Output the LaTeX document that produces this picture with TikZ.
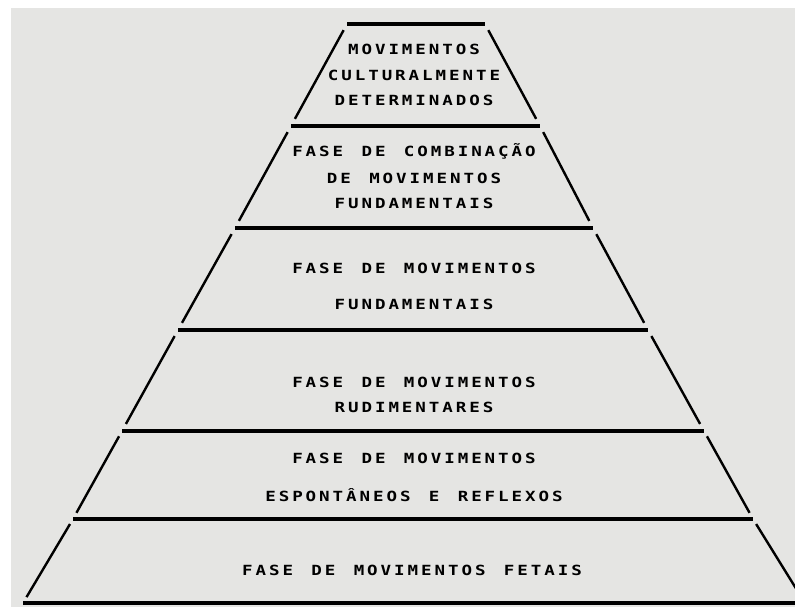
\documentclass[tikz,border=0pt]{standalone}
\usepackage{fontspec}
\usepackage{xcolor}
\usetikzlibrary{calc,positioning}
\newfontfamily\piramidefont[FakeStretch=1.25, LetterSpace=21, WordSpace=1.36]{DejaVu Sans Mono Bold}
\definecolor{papel}{RGB}{229,229,227}

\begin{document}
\begin{tikzpicture}[x=1pt, y=-1pt,
    degrau/.style={line width=4.5pt},
    lado/.style={line width=2.4pt},
    rotulo/.style={font=\piramidefont\fontsize{14}{16}\selectfont,
                   inner sep=0pt, anchor=base}]
\useasboundingbox (0,0) rectangle (795,607);
\clip (0,0) rectangle (795,607);
\fill[white] (0,0) rectangle (795,607);
\fill[papel] (11,8) rectangle (795,607);
%
% degraus da piramide: altura, ponta esquerda, ponta direita
\foreach \y/\l/\r [count=\i] in {24/347/485, 126/291/540, 228/235/593,
    330/178/648, 431/122/704, 519/73/753, 603/23/805}
{
  \coordinate (e\i) at (\l,\y);
  \coordinate (d\i) at (\r,\y);
  \draw[degrau] (e\i) -- (d\i);
}
% lados de cada faixa
\foreach \i [evaluate=\i as \j using int(\i+1)] in {1,...,6}
{
  \draw[lado] ($(e\i)!0.06!(e\j)$) -- ($(e\i)!0.93!(e\j)$);
  \draw[lado] ($(d\i)!0.06!(d\j)$) -- ($(d\i)!0.93!(d\j)$);
}
%
\node[rotulo] (cult1) at (414,55)  {MOVIMENTOS};
\node[rotulo] (cult2) at (414,81)  {CULTURALMENTE};
\node[rotulo] (cult3) at (414,106) {DETERMINADOS};
\node[rotulo] (comb1) at (414,157) {FASE DE COMBINAÇÃO};
\node[rotulo] (comb2) at (414,183) {DE MOVIMENTOS};
\node[rotulo] (comb3) at (414,208) {FUNDAMENTAIS};
\node[rotulo] (fund1) at (414,273) {FASE DE MOVIMENTOS};
\node[rotulo] (fund2) at (414,309) {FUNDAMENTAIS};
\node[rotulo] (rudi1) at (414,387) {FASE DE MOVIMENTOS};
\node[rotulo] (rudi2) at (414,412) {RUDIMENTARES};
\node[rotulo] (refl1) at (414,463) {FASE DE MOVIMENTOS};
\node[rotulo] (refl2) at (414,501) {ESPONTÂNEOS E REFLEXOS};
\node[rotulo] (feta1) at (412,575) {FASE DE MOVIMENTOS FETAIS};
%
\end{tikzpicture}
\end{document}
